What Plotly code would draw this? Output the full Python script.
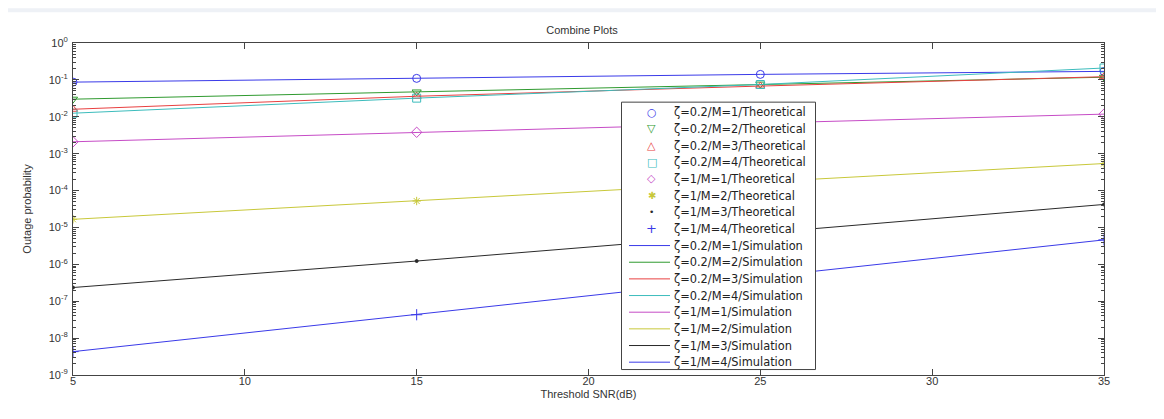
import plotly.graph_objects as go

snr = [5, 15, 25, 35]
z02_m1 = [0.087, 0.11, 0.141, 0.17]
z02_m2 = [0.030, 0.047, 0.077, 0.118]
z02_m3 = [0.016, 0.036, 0.068, 0.122]
z02_m4 = [0.0125, 0.032, 0.075, 0.21]
z1_m1 = [0.0021, 0.0038, 0.0067, 0.0118]
z1_m2 = [1.66e-5, 5.2e-5, 1.7e-4, 5.4e-4]
z1_m3 = [2.35e-7, 1.23e-6, 7.0e-6, 4.2e-5]
z1_m4 = [4.3e-9, 4.3e-8, 4.5e-7, 4.6e-6]

series_names = ["ζ=0.2/M=1", "ζ=0.2/M=2", "ζ=0.2/M=3", "ζ=0.2/M=4",
                "ζ=1/M=1", "ζ=1/M=2", "ζ=1/M=3", "ζ=1/M=4"]
series_vals = [z02_m1, z02_m2, z02_m3, z02_m4, z1_m1, z1_m2, z1_m3, z1_m4]

x_ticks = [5, 10, 15, 20, 25, 30, 35]
y_exponents = [-9, -8, -7, -6, -5, -4, -3, -2, -1, 0]

colors = ["#3a3ae8", "#2f9a2f", "#e84040", "#3cbcbc",
          "#c64cc6", "#c8c83a", "#2a2a2a", "#3a3ae8"]
symbols = ["circle-open", "triangle-down-open", "triangle-up-open", "square-open",
           "diamond-open", "asterisk-open", "circle", "cross-thin-open"]
msizes = [8, 8, 8, 8, 8, 7, 3, 8]
legend_glyphs = ["○", "▽", "△", "□", "◇", "✱", "•", "+"]
legend_glyph_sizes = [11, 11, 11, 11, 11, 10, 9, 13]

FONT = "Liberation Sans, Arial, sans-serif"
LEG_FONT = "DejaVu Sans, Verdana, sans-serif"

fig = go.Figure()
for name, vals, c, s, ms in zip(series_names, series_vals, colors, symbols, msizes):
    fig.add_trace(go.Scatter(
        x=snr, y=vals, mode="markers", name=name + "/Theoretical",
        marker=dict(symbol=s, size=ms, color=c, line=dict(color=c, width=1)),
    ))
for name, vals, c in zip(series_names, series_vals, colors):
    fig.add_trace(go.Scatter(
        x=snr, y=vals, mode="lines", name=name + "/Simulation",
        line=dict(color=c, width=1),
    ))

minor_vals = []
for e in y_exponents[:-1]:
    for k in range(2, 10):
        minor_vals.append(k * 10 ** e)

axis_common = dict(
    showline=True, linecolor="#444444", linewidth=1, mirror="ticks",
    ticks="inside", tickcolor="#444444", ticklen=6, showgrid=False, zeroline=False,
    tickfont=dict(family=FONT, size=11, color="#333333"),
)

fig.update_xaxes(
    range=[5, 35], tickmode="array", tickvals=x_ticks,
    ticktext=[str(t) for t in x_ticks], ticklabelstandoff=-4,
    title=dict(text="Threshold SNR(dB)", standoff=4,
               font=dict(family=FONT, size=11, color="#333333")),
    **axis_common,
)
fig.update_yaxes(
    type="log", range=[-9, 0], tickmode="array",
    tickvals=[10 ** e for e in y_exponents],
    ticktext=["10<sup>%d</sup>" % e for e in y_exponents],
    ticklabelstandoff=2,
    minor=dict(ticks="inside", ticklen=3, tickcolor="#444444", tickmode="array",
               tickvals=minor_vals, showgrid=False),
    title=dict(text="Outage probability", standoff=14,
               font=dict(family=FONT, size=11, color="#333333")),
    **axis_common,
)

# ---- layout geometry helpers (figure pixels -> paper fraction) ----
W, H = 1148, 403
ML, MR, MT, MB = 65, 52, 35, 34
PW, PH = W - ML - MR, H - MT - MB


def px(v):
    return (v - ML) / PW


def py(v):
    return (H - MB - v) / PH


# light strip at the very top (screen-capture artefact)
fig.add_shape(type="rect", xref="paper", yref="paper",
              x0=px(-2), x1=px(W), y0=py(4), y1=py(0),
              fillcolor="#eef1f6", line=dict(width=0), layer="below")

# ---- legend box (MATLAB style, compact rows) ----
box_l, box_r, box_t, box_b = 613.5, 807.5, 94.5, 363.5
row0, row_step = 104.7, 16.76
sym_x, txt_x, line_x0, line_x1 = 643.5, 664.0, 621.0, 662.0

fig.add_shape(type="rect", xref="paper", yref="paper",
              x0=px(box_l), x1=px(box_r), y0=py(box_b), y1=py(box_t),
              fillcolor="white", line=dict(color="#444444", width=1), layer="above")

labels = [n + "/Theoretical" for n in series_names] + [n + "/Simulation" for n in series_names]
for i, lab in enumerate(labels):
    yc = row0 + i * row_step
    fig.add_annotation(xref="paper", yref="paper", x=px(txt_x), y=py(yc),
                       xanchor="left", yanchor="middle", showarrow=False,
                       text=lab, font=dict(family=LEG_FONT, size=11.4, color="#222222"))
    k = i % 8
    if i < 8:
        fig.add_annotation(xref="paper", yref="paper", x=px(sym_x), y=py(yc),
                           xanchor="center", yanchor="middle", showarrow=False,
                           text=legend_glyphs[k],
                           font=dict(family="DejaVu Sans", size=legend_glyph_sizes[k],
                                     color=colors[k]))
    else:
        fig.add_shape(type="line", xref="paper", yref="paper",
                      x0=px(line_x0), x1=px(line_x1), y0=py(yc), y1=py(yc),
                      line=dict(color=colors[k], width=1), layer="above")

fig.update_layout(
    width=W, height=H,
    margin=dict(l=ML, r=MR, t=MT, b=MB),
    paper_bgcolor="white", plot_bgcolor="white",
    title=dict(text="Combine Plots", x=0.5, xanchor="center", y=0.945, yanchor="middle",
               font=dict(family=FONT, size=11, color="#333333")),
    showlegend=False,
)

fig.write_html("out.html")
